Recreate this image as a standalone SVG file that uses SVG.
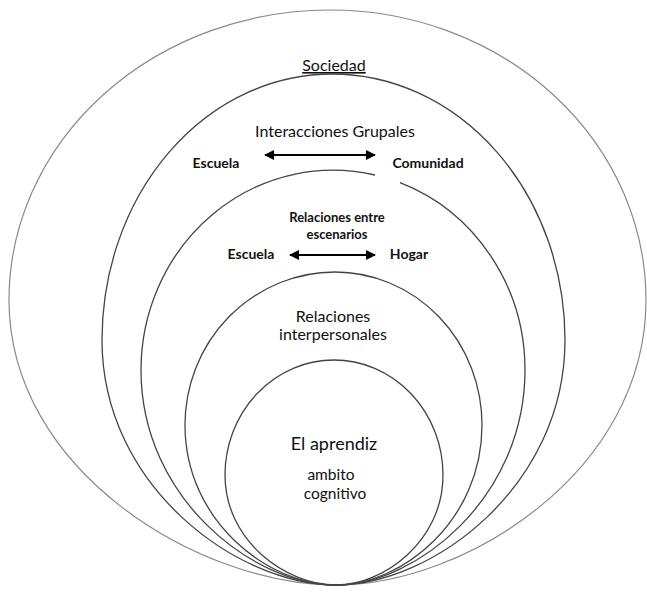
<svg xmlns="http://www.w3.org/2000/svg" width="647" height="592" viewBox="0 0 647 592">
  <style>
    .ring { fill: none; stroke: #444; stroke-width: 1.3; }
    .outer { stroke: #8a8a8a; stroke-width: 1.2; }
    .t { font-family: Lato, "Open Sans", "Liberation Sans", sans-serif; fill: #111; text-anchor: middle; }
    .reg { font-size: 16px; }
    .b { font-weight: bold; font-size: 14px; }
    .bs { font-weight: bold; font-size: 13px; }
    .mid { font-size: 15.5px; }
    .big { font-size: 18px; }
    .arr { stroke: #000; stroke-width: 2.2; fill: none; }
  </style>
  <defs>
    <marker id="ah" viewBox="0 0 10 10" refX="9" refY="5" markerWidth="11" markerHeight="10" markerUnits="userSpaceOnUse" orient="auto-start-reverse">
      <path d="M0,0 L10,5 L0,10 Z" fill="#000"/>
    </marker>
  </defs>
  <rect width="647" height="592" fill="#fff"/>

  <g id="sociedad">
    <path class="ring outer" d="M 9,300 A 321 290 0 0 1 330,10 A 316 290 0 0 1 646,300 C 646,471 466,585 336,585 C 199,585 9,471 9,300 Z"/>
    <text class="t reg" x="334" y="71" text-decoration="underline">Sociedad</text>
  </g>

  <g id="interacciones">
    <path class="ring" d="M 102,340 A 230 266 0 0 1 332,74 A 233 266 0 0 1 565,340 C 565,487 432,585 336,585 C 238,585 102,487 102,340 Z"/>
    <text class="t reg" x="335" y="137">Interacciones Grupales</text>
    <text class="t b" x="216" y="168">Escuela</text>
    <text class="t b" x="428" y="168">Comunidad</text>
  </g>

  <g id="escenarios">
    <path class="ring" d="M 400,182.6 A 192 200 0 0 1 525,370 C 525,499 415,585 336,585 C 254,585 141,499 141,370 A 192 200 0 0 1 375,175"/>
    <text class="t bs" x="337" y="222">Relaciones entre</text>
    <text class="t bs" x="337" y="239">escenarios</text>
    <text class="t b" x="251" y="259">Escuela</text>
    <text class="t b" x="409" y="259">Hogar</text>
  </g>

  <g id="interpersonales">
    <path class="ring" d="M 185,425 A 150 153 0 0 1 335,272 A 147 153 0 0 1 482,425 C 482,521 402,585 336,585 C 268,585 185,521 185,425 Z"/>
    <text class="t reg" x="333" y="322">Relaciones</text>
    <text class="t reg" x="333" y="340">interpersonales</text>
  </g>

  <g id="aprendiz">
    <path class="ring" d="M 225,475 A 109 115 0 0 1 334,360 A 109 115 0 0 1 443,475 C 443,541 384,585 336,585 C 286,585 225,541 225,475 Z"/>
    <text class="t big" x="334" y="450">El aprendiz</text>
    <text class="t mid" x="331" y="480">ambito</text>
    <text class="t mid" x="335" y="499">cognitivo</text>
  </g>

  <g id="connectors">
    <line class="arr" x1="265" y1="155" x2="375" y2="155" marker-start="url(#ah)" marker-end="url(#ah)"/>
    <line class="arr" x1="290" y1="255" x2="375" y2="255" marker-start="url(#ah)" marker-end="url(#ah)"/>
  </g>
</svg>
